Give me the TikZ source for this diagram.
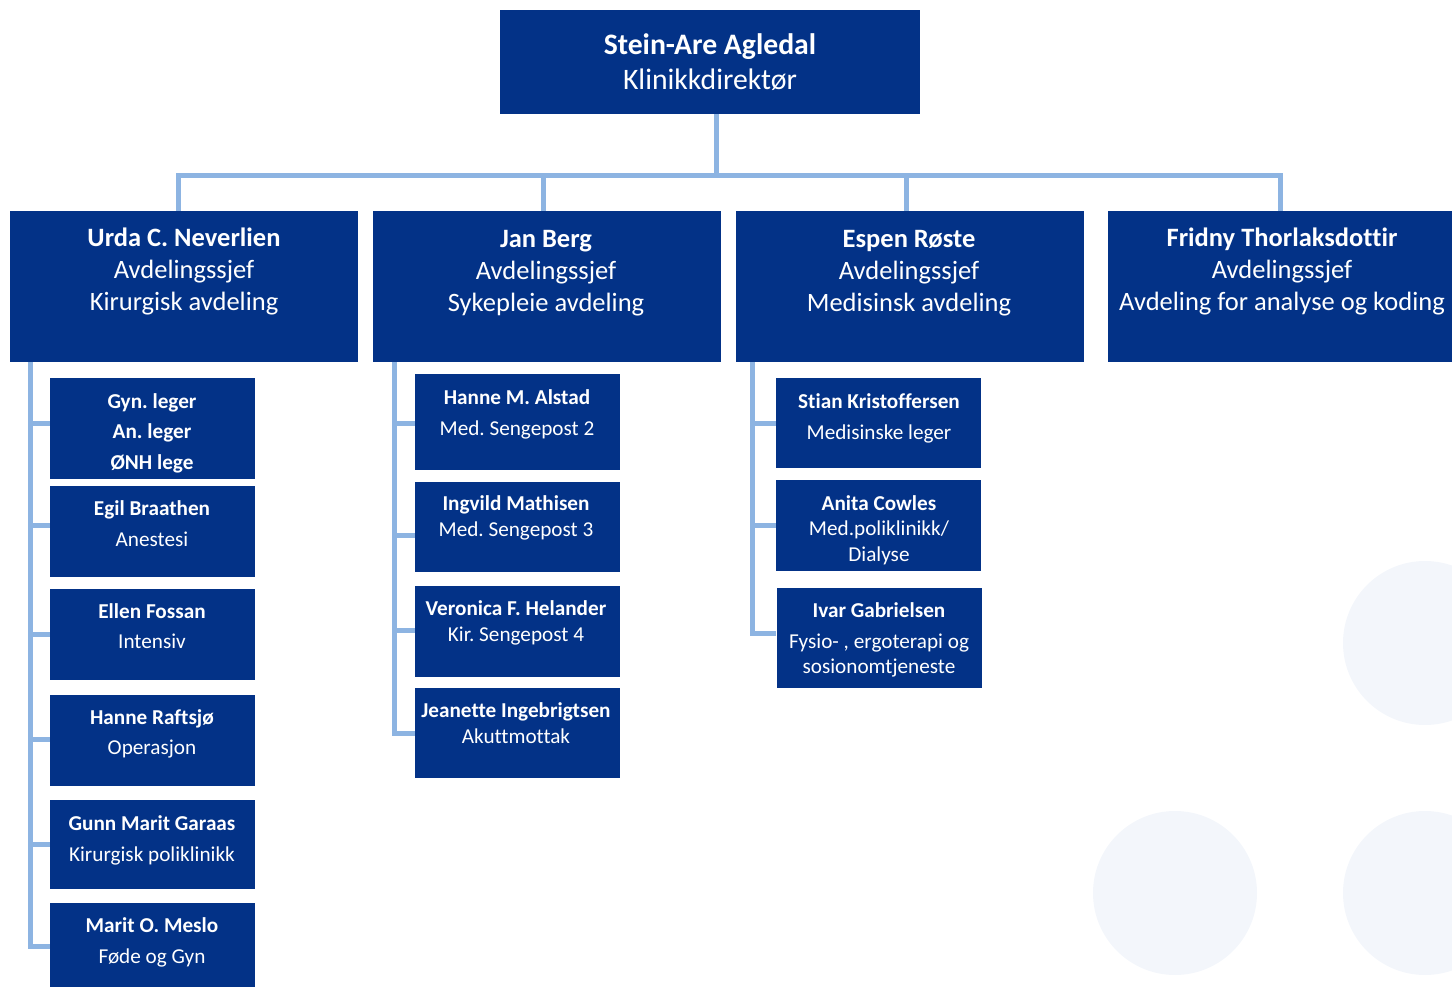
\documentclass[tikz,border=0pt]{standalone}
\usepackage{fontspec}
\setmainfont{Carlito}[Ligatures={NoCommon}]
\frenchspacing
\definecolor{boxblue}{RGB}{3,50,135}
\definecolor{connblue}{RGB}{141,180,226}
\definecolor{dotbg}{RGB}{243,246,251}
\tikzset{
  boxnode/.style={rectangle, fill=boxblue, draw=none, inner sep=0pt},
  toptxt/.style={anchor=north, inner sep=0pt, align=center, text=white, font=\frenchspacing\fontsize{29.7}{35}\selectfont},
  midtxt/.style={anchor=north, inner sep=0pt, align=center, text=white, font=\frenchspacing\fontsize{26.5}{32}\selectfont},
  subtxt/.style={anchor=north, inner sep=0pt, align=center, text=white, font=\frenchspacing\fontsize{21.2}{25.5}\selectfont},
  conn/.style={draw=connblue, line width=5pt},
  dot/.style={fill=dotbg, draw=none}
}
\newcommand{\nm}[1]{\textbf{#1}}
\begin{document}
\begin{tikzpicture}[x=1pt,y=-1pt]
\useasboundingbox (0,0) rectangle (1452,987);
\clip (0,0) rectangle (1452,987);
% background dots
\fill[dot] (1425,643) circle (82);
\fill[dot] (1175,893) circle (82);
\fill[dot] (1425,893) circle (82);

% top
\node[boxnode, minimum width=420pt, minimum height=104pt] (top) at (710,62) {};
\node[toptxt] (topt) at (710,33) {\nm{Stein-Are Agledal}\\Klinikkdirektør};

% level 2
\node[boxnode, minimum width=348pt, minimum height=151pt] (u1) at (184,286.5) {};
\node[boxnode, minimum width=348pt, minimum height=151pt] (u2) at (547,286.5) {};
\node[boxnode, minimum width=348pt, minimum height=151pt] (u3) at (910,286.5) {};
\node[boxnode, minimum width=344pt, minimum height=151pt] (u4) at (1280,286.5) {};
\node[midtxt] (u1t) at (184,228) {\nm{Urda C. Neverlien}\\Avdelingssjef\\Kirurgisk avdeling};
\node[midtxt] (u2t) at (546,230) {\nm{Jan Berg}\\Avdelingssjef\\Sykepleie avdeling};
\node[midtxt] (u3t) at (909,230) {\nm{Espen Røste}\\Avdelingssjef\\Medisinsk avdeling};
\node[midtxt] (u4t) at (1282,228) {\nm{Fridny Thorlaksdottir}\\Avdelingssjef\\Avdeling for analyse og koding};

% column 1
\node[boxnode, minimum width=205pt, minimum height=101pt] (g1) at (152.5,428.5) {};
\node[boxnode, minimum width=205pt, minimum height=91pt] (g2) at (152.5,531.5) {};
\node[boxnode, minimum width=205pt, minimum height=91pt] (g3) at (152.5,634.5) {};
\node[boxnode, minimum width=205pt, minimum height=91pt] (g4) at (152.5,740.5) {};
\node[boxnode, minimum width=205pt, minimum height=89pt] (g5) at (152.5,844.5) {};
\node[boxnode, minimum width=205pt, minimum height=87pt] (g6) at (152.5,946.5) {};
\node[subtxt] (g1t) at (152,393) {\nm{Gyn. leger}\\[5pt]\nm{An. leger}\\[5pt]\nm{ØNH lege}};
\node[subtxt] (g2t) at (152,500.5) {\nm{Egil Braathen}\\[5.5pt]Anestesi};
\node[subtxt] (g3t) at (152,603.5) {\nm{Ellen Fossan}\\[4.5pt]Intensiv};
\node[subtxt] (g4t) at (152,709.5) {\nm{Hanne Raftsjø}\\[4.5pt]Operasjon};
\node[subtxt] (g5t) at (152,815.5) {\nm{Gunn Marit Garaas}\\[5.5pt]Kirurgisk poliklinikk};
\node[subtxt] (g6t) at (152,917.5) {\nm{Marit O. Meslo}\\[5.5pt]Føde og Gyn};

% column 2
\node[boxnode, minimum width=205pt, minimum height=96pt] (h1) at (517.5,422) {};
\node[boxnode, minimum width=205pt, minimum height=90pt] (h2) at (517.5,527) {};
\node[boxnode, minimum width=205pt, minimum height=91pt] (h3) at (517.5,631.5) {};
\node[boxnode, minimum width=205pt, minimum height=90pt] (h4) at (517.5,733) {};
\node[subtxt] (h1t) at (517,389) {\nm{Hanne M. Alstad}\\[5.5pt]Med. Sengepost 2};
\node[subtxt] (h2t) at (516,495.5) {\nm{Ingvild Mathisen}\\Med. Sengepost 3};
\node[subtxt] (h3t) at (516,600.5) {\nm{Veronica F. Helander}\\Kir. Sengepost 4};
\node[subtxt] (h4t) at (516,702.5) {\nm{Jeanette Ingebrigtsen}\\Akuttmottak};

% column 3
\node[boxnode, minimum width=205pt, minimum height=90pt] (s1) at (878.5,423) {};
\node[boxnode, minimum width=205pt, minimum height=91pt] (s2) at (878.5,525.5) {};
\node[boxnode, minimum width=205pt, minimum height=100pt] (s3) at (879,638) {};
\node[subtxt] (s1t) at (879,393) {\nm{Stian Kristoffersen}\\[5.5pt]Medisinske leger};
\node[subtxt] (s2t) at (879,495) {\nm{Anita Cowles}\\Med.poliklinikk/\\Dialyse};
\node[subtxt] (s3t) at (879,602) {\nm{Ivar Gabrielsen}\\[5.5pt]Fysio- , ergoterapi og\\sosionomtjeneste};

% connectors top
\draw[conn] ([xshift=6pt]top.south) -- ++(0,61) -| ([xshift=-6pt]u1.north);
\draw[conn] ([xshift=6pt]top.south) -- ++(0,61) -| ([xshift=-4pt]u2.north);
\draw[conn] ([xshift=6pt]top.south) -- ++(0,61) -| ([xshift=-4pt]u3.north);
\draw[conn] ([xshift=6pt]top.south) -- ++(0,61) -| (u4.north);

% spines
\coordinate (sp1) at ([xshift=21pt]u1.south west);
\coordinate (sp2) at ([xshift=22pt]u2.south west);
\coordinate (sp3) at ([xshift=17pt]u3.south west);

\draw[conn] (sp1) |- ([yshift=5.5pt]g1.west);
\draw[conn] (sp1) |- ([yshift=6.5pt]g2.west);
\draw[conn] (sp1) |- (g3.west);
\draw[conn] (sp1) |- ([yshift=1.5pt]g4.west);
\draw[conn] (sp1) |- (g5.west);
\draw[conn] (sp1) |- (g6.west);

\draw[conn] (sp2) |- ([yshift=-1pt]h1.west);
\draw[conn] (sp2) |- ([yshift=-8pt]h2.west);
\draw[conn] (sp2) |- ([yshift=1.5pt]h3.west);
\draw[conn] (sp2) |- (h4.west);

\draw[conn] (sp3) |- (s1.west);
\draw[conn] (sp3) |- (s2.west);
\draw[conn] (sp3) |- ([yshift=5pt]s3.west);
\end{tikzpicture}
\end{document}
